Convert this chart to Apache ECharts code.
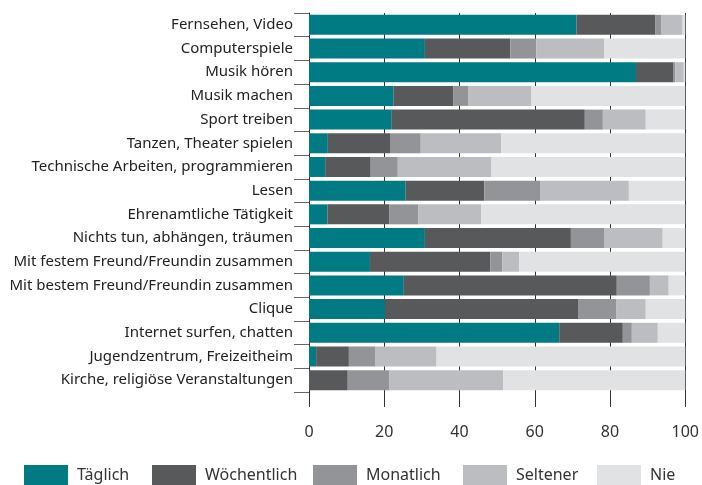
<!DOCTYPE html>
<html>
<head>
<meta charset="utf-8">
<script src="https://cdn.jsdelivr.net/npm/echarts@6/dist/echarts.min.js"></script>
<style>
  html, body { margin: 0; padding: 0; background: #fff; }
  #chart { width: 702px; height: 485px; }
</style>
</head>
<body>
<div id="chart"></div>
<script>
// Freizeitaktivitäten, Anteile in Prozent
const categories = [
  'Fernsehen, Video',
  'Computerspiele',
  'Musik hören',
  'Musik machen',
  'Sport treiben',
  'Tanzen, Theater spielen',
  'Technische Arbeiten, programmieren',
  'Lesen',
  'Ehrenamtliche Tätigkeit',
  'Nichts tun, abhängen, träumen',
  'Mit festem Freund/Freundin zusammen',
  'Mit bestem Freund/Freundin zusammen',
  'Clique',
  'Internet surfen, chatten',
  'Jugendzentrum, Freizeitheim',
  'Kirche, religiöse Veranstaltungen'
];
const taeglich    = [71.1, 30.8, 86.9, 22.5, 22.0, 5.0, 4.3, 25.7, 4.9, 30.8, 16.2, 25.2, 20.2, 66.5, 1.9, 0];
const woechentlich = [21.0, 22.7, 10.0, 15.9, 51.3, 16.7, 12.1, 20.9, 16.5, 38.8, 32.0, 56.6, 51.3, 16.9, 8.7, 10.3];
const monatlich   = [1.6, 6.9, 0.5, 4.0, 4.8, 8.0, 7.2, 14.8, 7.7, 8.8, 3.2, 8.8, 10.1, 2.4, 7.1, 11.1];
const seltener    = [5.6, 18.0, 2.2, 16.6, 11.4, 21.4, 24.9, 23.6, 16.7, 15.6, 4.5, 5.0, 7.9, 6.9, 16.2, 30.2];
const nie         = [0.7, 21.6, 0.4, 41.0, 10.5, 48.9, 51.5, 15.0, 54.2, 6.0, 44.1, 4.4, 10.5, 7.3, 66.1, 48.4];
const xTicks = [0, 20, 40, 60, 80, 100];

const seriesNames = ['Täglich', 'Wöchentlich', 'Monatlich', 'Seltener', 'Nie'];
const seriesData = [taeglich, woechentlich, monatlich, seltener, nie];
const colors = ['#007a83', '#58595b', '#939497', '#bcbdc0', '#e1e2e4'];
const legendLeft = [24, 152, 313, 463, 597];

const font = 'Noto Sans';
const myChart = echarts.init(document.getElementById('chart'));

const option = {
  animation: false,
  color: colors,
  textStyle: { fontFamily: font },
  grid: { left: 309, right: 15, top: 13, bottom: 93 },
  legend: seriesNames.map((name, i) => ({
    data: [name],
    left: legendLeft[i],
    top: 465,
    padding: 0,
    itemWidth: 44,
    itemHeight: 20,
    itemGap: 10,
    icon: 'rect',
    selectedMode: false,
    textStyle: { fontSize: 16, color: '#333', fontFamily: font, padding: [0, 0, 0, 4] }
  })),
  xAxis: {
    type: 'value',
    min: xTicks[0],
    max: xTicks[xTicks.length - 1],
    interval: 20,
    axisLine: { show: false },
    axisTick: { show: true, length: 15, lineStyle: { color: '#333', width: 1 } },
    axisLabel: { margin: 32, fontSize: 16, color: '#333', fontFamily: font },
    splitLine: { show: true, lineStyle: { color: '#333', width: 1 } }
  },
  yAxis: {
    type: 'category',
    inverse: true,
    data: categories,
    axisLine: { show: true, lineStyle: { color: '#333', width: 1 } },
    axisTick: { show: true, length: 15, lineStyle: { color: '#666', width: 1 } },
    axisLabel: { margin: 16, fontSize: 15, color: '#222', fontFamily: font }
  },
  series: seriesNames.map((name, i) => ({
    name: name,
    type: 'bar',
    stack: 'total',
    barWidth: 20,
    data: seriesData[i]
  }))
};
myChart.setOption(option);
</script>
</body>
</html>
